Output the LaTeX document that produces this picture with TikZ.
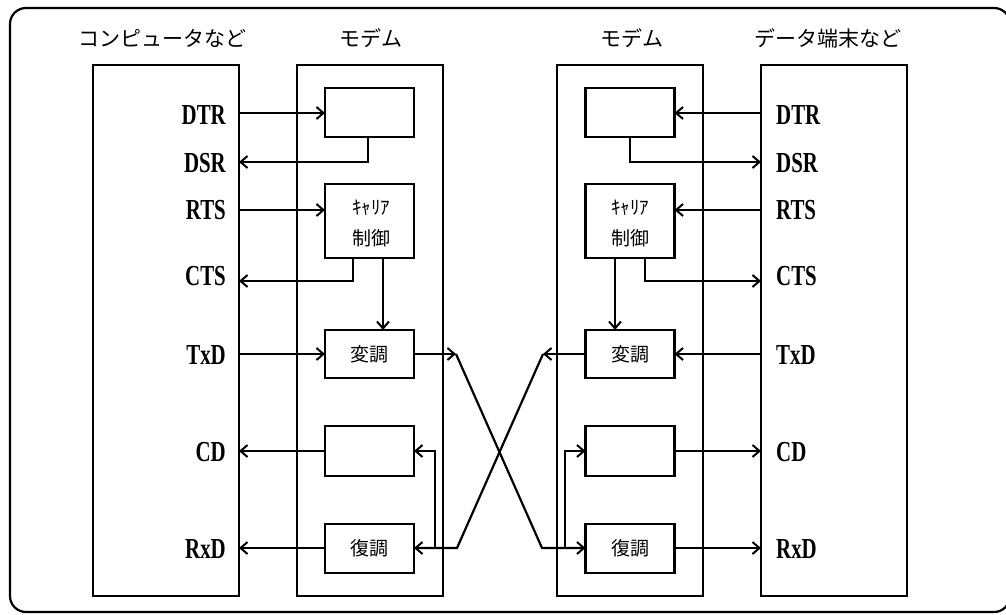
\documentclass[tikz,border=0pt]{standalone}
\usepackage{fontspec}
\usetikzlibrary{arrows.meta,calc}
\newfontfamily\jp{Noto Sans CJK JP}
\newfontfamily\sigfont{Liberation Serif}[FakeStretch=0.72]
\tikzset{
  px/.style={x=1pt,y=-1pt},
  bigbox/.style={draw,line width=2.2pt,minimum width=146pt,minimum height=531pt,inner sep=0pt,outer sep=0pt},
  inbox/.style={draw,line width=2.2pt,minimum width=89pt,inner sep=0pt,outer sep=0pt,font=\jp\fontsize{19}{22}\selectfont},
  intext/.style={font=\jp\fontsize{19}{22}\selectfont,inner sep=0pt},
  title/.style={font=\jp\fontsize{21}{24}\selectfont,inner sep=0pt},
  sig/.style={font=\sigfont\bfseries\fontsize{29}{31}\selectfont,inner sep=0pt},
  conn/.style={line width=2.2pt},
  arr/.style={conn,-{Straight Barb[length=7pt,width=12pt,line width=2pt]}},
}
\begin{document}
\begin{tikzpicture}[px]
\useasboundingbox (0,0) rectangle (1006,614);
\draw[line width=2.2pt,rounded corners=16pt] (10,8) rectangle (1010,612);
% titles
\node[title] (t1) at (162,38) {コンピュータなど};
\node[title] (t2) at (371,38) {モデム};
\node[title] (t3) at (632,38) {モデム};
\node[title] (t4) at (828,38) {データ端末など};
% big boxes
\node[bigbox] (comp) at (166,330.5) {};
\node[bigbox] (modL) at (370,330.5) {};
\node[bigbox] (modR) at (630,330.5) {};
\node[bigbox] (term) at (834,330.5) {};
% left modem inner boxes
\node[inbox,minimum height=49pt] (b1L) at (369.5,112.5) {};
\node[inbox,minimum height=74pt] (carL) at (369.5,221) {};
\node[inbox,minimum height=48pt] (modLb) at (369.5,354) {変調};
\node[inbox,minimum height=50pt] (cdL) at (369.5,451) {};
\node[inbox,minimum height=49pt] (demL) at (369.5,548.5) {復調};
% right modem inner boxes
\node[inbox,minimum height=49pt] (b1R) at (630,112.5) {};
\node[inbox,minimum height=74pt] (carR) at (630,221) {};
\node[inbox,minimum height=48pt] (modRb) at (630,354) {変調};
\node[inbox,minimum height=50pt] (cdR) at (630,451) {};
\node[inbox,minimum height=49pt] (demR) at (630,548.5) {復調};
% carrier texts
\node[intext] (kL) at (371,208) {ｷｬﾘｱ};
\node[intext] (sL) at (371,238) {制御};
\node[intext] (kR) at (630,208) {ｷｬﾘｱ};
\node[intext] (sR) at (630,238) {制御};
% signal labels left
\node[sig,anchor=east] (dtrL) at (226,115) {DTR};
\node[sig,anchor=east] (dsrL) at (226,163) {DSR};
\node[sig,anchor=east] (rtsL) at (226,210) {RTS};
\node[sig,anchor=east] (ctsL) at (226,276) {CTS};
\node[sig,anchor=east] (txdL) at (226,355) {TxD};
\node[sig,anchor=east] (cdLl) at (226,452) {CD};
\node[sig,anchor=east] (rxdL) at (226,549) {RxD};
% signal labels right
\node[sig,anchor=west] (dtrR) at (776,115) {DTR};
\node[sig,anchor=west] (dsrR) at (776,163) {DSR};
\node[sig,anchor=west] (rtsR) at (776,210) {RTS};
\node[sig,anchor=west] (ctsR) at (776,276) {CTS};
\node[sig,anchor=west] (txdR) at (776,355) {TxD};
\node[sig,anchor=west] (cdRl) at (776,452) {CD};
\node[sig,anchor=west] (rxdR) at (776,549) {RxD};
% helper coordinates
\coordinate (yDTR) at (0,113);
\coordinate (yDSR) at (0,162);
\coordinate (yRTS) at (0,210);
\coordinate (yCTS) at (0,281);
\coordinate (yTX) at (0,354);
\coordinate (yCD) at (0,451);
\coordinate (yRX) at (0,548);
\coordinate (xL1) at (368,0);
\coordinate (xL2) at (353,0);
\coordinate (xL3) at (383,0);
\coordinate (xR1) at (630,0);
\coordinate (xR2) at (645,0);
\coordinate (xR3) at (615,0);
\coordinate (c1) at (456,354);
\coordinate (c2) at (542,548);
\coordinate (c3) at (543,354);
\coordinate (c4) at (457,548);
\coordinate (brL) at (435,548);
\coordinate (brR) at (565,548);
% left side connectors
\draw[arr] (comp.east |- yDTR) -- (b1L.west |- yDTR);
\draw[arr] (b1L.south -| xL1) -- (xL1 |- yDSR) -- (comp.east |- yDSR);
\draw[arr] (comp.east |- yRTS) -- (carL.west |- yRTS);
\draw[arr] (carL.south -| xL2) -- (xL2 |- yCTS) -- (comp.east |- yCTS);
\draw[arr] (carL.south -| xL3) -- (modLb.north -| xL3);
\draw[arr] (comp.east |- yTX) -- (modLb.west |- yTX);
\draw[arr] (cdL.west |- yCD) -- (comp.east |- yCD);
\draw[arr] (demL.west |- yRX) -- (comp.east |- yRX);
% right side connectors
\draw[arr] (term.west |- yDTR) -- (b1R.east |- yDTR);
\draw[arr] (b1R.south -| xR1) -- (xR1 |- yDSR) -- (term.west |- yDSR);
\draw[arr] (term.west |- yRTS) -- (carR.east |- yRTS);
\draw[arr] (carR.south -| xR2) -- (xR2 |- yCTS) -- (term.west |- yCTS);
\draw[arr] (carR.south -| xR3) -- (modRb.north -| xR3);
\draw[arr] (term.west |- yTX) -- (modRb.east |- yTX);
\draw[arr] (cdR.east |- yCD) -- (term.west |- yCD);
\draw[arr] (demR.east |- yRX) -- (term.west |- yRX);
% crossing lines
\draw[arr] (modLb.east |- yTX) -- (c1);
\draw[arr] (c1) -- (c2) -- (demR.west |- yRX);
\draw[arr] (brR) -- (brR |- yCD) -- (cdR.west |- yCD);
\draw[arr] (modRb.west |- yTX) -- (c3);
\draw[arr] (c3) -- (c4) -- (demL.east |- yRX);
\draw[arr] (brL) -- (brL |- yCD) -- (cdL.east |- yCD);
\end{tikzpicture}
\end{document}
